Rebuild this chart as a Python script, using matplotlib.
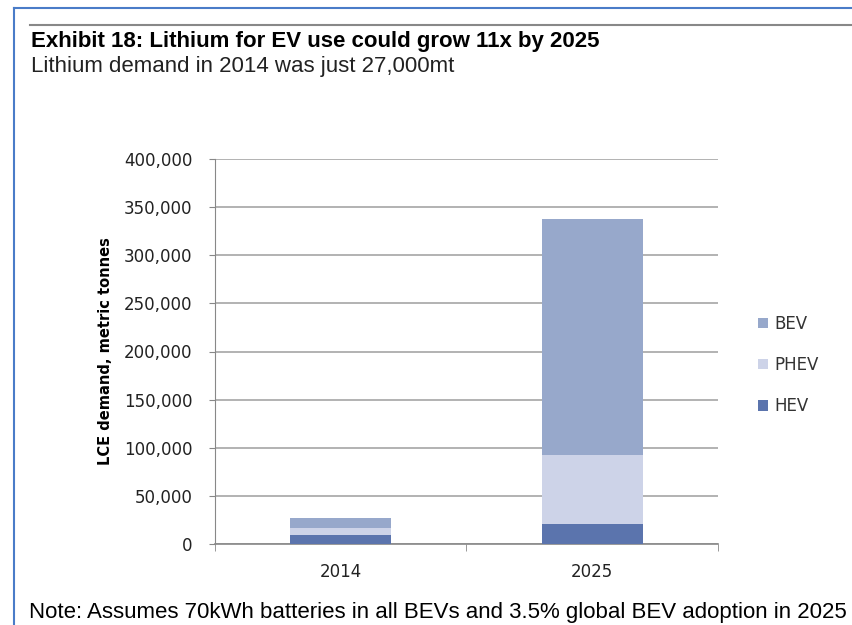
import matplotlib.pyplot as plt
from matplotlib.lines import Line2D

# Data
years = ['2014', '2025']
hev = [9000, 21000]
phev = [8000, 71000]
bev = [10000, 246000]
yticks = list(range(0, 400001, 50000))

c_hev = '#5b74ad'
c_phev = '#cdd3e8'
c_bev = '#97a8cb'

fig = plt.figure(figsize=(8.52, 6.25), dpi=100)
ax = fig.add_axes([0.252, 0.1296, 0.591, 0.616])

x = range(len(years))
w = 0.4
ax.bar(x, hev, width=w, color=c_hev, zorder=3, label='HEV')
ax.bar(x, phev, width=w, bottom=hev, color=c_phev, zorder=3, label='PHEV')
bottom2 = [a + b for a, b in zip(hev, phev)]
ax.bar(x, bev, width=w, bottom=bottom2, color=c_bev, zorder=3, label='BEV')

ax.set_xlim(-0.5, 1.5)
ax.set_ylim(0, 400000)
ax.set_yticks(yticks)
ax.set_yticklabels([f'{v:,}' for v in yticks], fontsize=12, color='#222222')
ax.set_xticks(list(x))
ax.set_xticklabels(years, fontsize=12, color='#222222')
ax.tick_params(axis='x', length=0, pad=14)
ax.tick_params(axis='y', length=4, color='#888888', pad=12)
ax.set_xticks([-0.5, 0.5, 1.5], minor=True)
ax.tick_params(axis='x', which='minor', length=5, color='#888888')
ax.yaxis.grid(True, color='#a6a6a6', linewidth=1.2, zorder=0)
for s in ['top', 'right']:
    ax.spines[s].set_visible(False)
ax.spines['left'].set_color('#888888')
ax.spines['bottom'].set_color('#888888')
ax.spines['bottom'].set_linewidth(1.2)
ax.set_ylabel('LCE demand, metric tonnes', fontsize=10.5, fontweight='bold', labelpad=8)

# Legend
h, l = ax.get_legend_handles_labels()
fig.legend(h[::-1], l[::-1], loc='center left', bbox_to_anchor=(0.872, 0.416),
           frameon=False, fontsize=12, handlelength=0.6, handleheight=0.6,
           handletextpad=0.4, labelspacing=1.4, labelcolor='#333333')

# Frame and texts
fig.add_artist(Line2D([0.0164, 0.0164], [0, 0.988], color='#4a7cc8', linewidth=1.5))
fig.add_artist(Line2D([0.0164, 1.0], [0.988, 0.988], color='#4a7cc8', linewidth=1.5))
fig.add_artist(Line2D([0.035, 1.0], [0.96, 0.96], color='#888888', linewidth=1.5))

fig.text(0.036, 0.933, 'Exhibit 18: Lithium for EV use could grow 11x by 2025',
         fontsize=16, fontweight='bold', family='Liberation Sans', va='center')
fig.text(0.036, 0.894, 'Lithium demand in 2014 was just 27,000mt',
         fontsize=16, family='Liberation Sans', va='center', color='#222222')
fig.text(0.034, 0.02, 'Note: Assumes 70kWh batteries in all BEVs and 3.5% global BEV adoption in 2025',
         fontsize=16, family='Liberation Sans', va='center')

fig.savefig('out.png', dpi=100)
